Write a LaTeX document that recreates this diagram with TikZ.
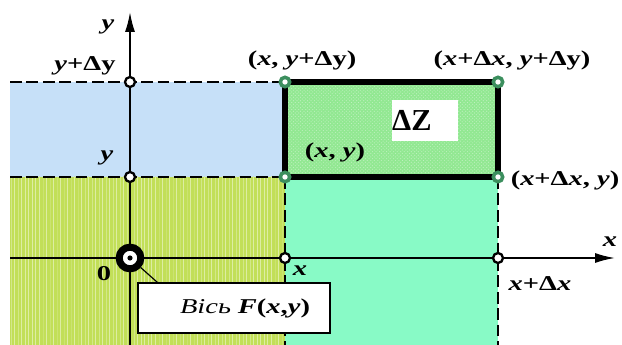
\documentclass[tikz,border=0pt]{standalone}
\usepackage{fontspec}
\setmainfont[FakeStretch=1.35]{Liberation Serif}
\newfontfamily\plainserif{Liberation Serif}
\usetikzlibrary{arrows.meta, patterns, positioning, calc}
\definecolor{skyfill}{HTML}{C6E0F8}
\definecolor{olivefill}{HTML}{C2DF58}
\definecolor{aquafill}{HTML}{88FAC6}
\definecolor{zfill}{HTML}{92E892}
\definecolor{ptgreen}{HTML}{3C8F5E}

\begin{document}
\begin{tikzpicture}[x=0.03cm, y=-0.03cm,
  every node/.style={font=\fontsize{18}{21}\selectfont\bfseries},
  pt/.style={circle, draw=black, fill=white, line width=2pt, inner sep=0pt, minimum size=8.5pt},
  gpt/.style={pt, draw=ptgreen, line width=3pt, minimum size=8pt},
  guide/.style={dash pattern=on 10pt off 4pt, line width=0.9pt},
  axis/.style={-{Latex[length=6mm, width=3mm]}, line width=1.5pt},
  lbox/.style={draw, fill=white, line width=0.9pt, inner xsep=20*0.03cm, text width=152*0.03cm, align=right, minimum height=50*0.03cm},
]
\useasboundingbox (0,0) rectangle (622,345);

% areas
\fill[skyfill] (10,82) rectangle (285,177);
\fill[olivefill] (10,177) rectangle (285,345);
\fill[pattern=vertical lines, pattern color=white!45!olivefill] (10,177) rectangle (285,345);
\fill[aquafill] (285,177) rectangle (498,345);
\fill[zfill] (285,82) rectangle (498,177);
\fill[pattern=crosshatch dots, pattern color=white!40!zfill] (285,82) rectangle (498,177);

% guide lines
\draw[guide] (10,82) -- (285,82);
\draw[guide] (10,177) -- (285,177);
\draw[guide] (285,177) -- (285,345);
\draw[guide] (498,177) -- (498,345);

% element dZ
\draw[line width=4.5pt] (285,82) rectangle (498,177);
\node[fill=white, anchor=north west, text width=66*0.03cm, minimum height=41*0.03cm, inner sep=0pt, align=left,
  font=\plainserif\fontsize{26}{28}\selectfont\bfseries] (dz) at (392,100) {ΔZ};

% axes
\coordinate (xstart) at (10,258);
\coordinate (xend) at (615,258);
\coordinate (ystart) at (130,345);
\coordinate (yend) at (130,12);
\draw[axis] (xstart) -- (xend);
\draw[axis] (ystart) -- (yend);

% points
\node[pt] (py0) at (130,177) {};
\node[pt] (py1) at (130,82) {};
\node[pt] (px0) at (285,258) {};
\node[pt] (px1) at (498,258) {};
\node[gpt] (a) at (285,177) {};
\node[gpt] (b) at (285,82) {};
\node[gpt] (c) at (498,82) {};
\node[gpt] (d) at (498,177) {};

% origin
\node[circle, draw, fill=white, line width=6pt, minimum size=18.5pt, inner sep=0pt] (origin) at (130,258) {};
\fill (origin.center) circle (2.2pt);

% F(x,y) label
\node[lbox, font=\fontsize{18}{21}\selectfont] (fbox) at (234,308) {\textit{Вісь} \textbf{\textit{F}(\textit{x},\textit{y})}};
\draw[line width=1pt] (origin) -- ($(fbox.north west)+(20,0)$);

% labels
\node at (108,27) {\textit{y}};
\node at (610,242) {\textit{x}};
\node at (85,66) {\textit{y}+Δy};
\node at (107,158) {\textit{y}};
\node at (104,274) {0};
\node at (300,271) {\textit{x}};
\node at (540,284) {\textit{x}+Δ\textit{x}};
\node at (302,60) {(\textit{x}, \textit{y}+Δy)};
\node at (512,60) {(\textit{x}+Δ\textit{x}, \textit{y}+Δy)};
\node at (335,152) {(\textit{x}, \textit{y})};
\node at (565,180) {(\textit{x}+Δ\textit{x}, \textit{y})};
\end{tikzpicture}
\end{document}
